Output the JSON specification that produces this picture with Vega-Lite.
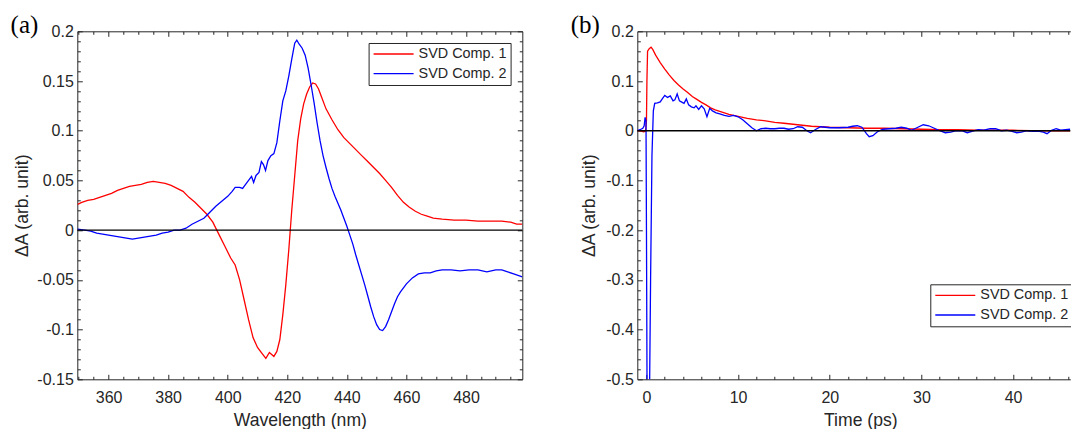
{
"$schema": "https://vega.github.io/schema/vega-lite/v6.json",
"background": "#ffffff",
"padding": {"left": 10.3, "top": 12.3, "right": 0, "bottom": 0},
"bounds": "flush",
"spacing": 115,
"resolve": {"scale": {"color": "independent"}, "legend": {"color": "independent"}},
"config": {
  "view": {"stroke": null},
  "axis": {"labelFont": "Liberation Sans", "labelFontSize": 16, "titleFont": "Liberation Sans", "titleFontSize": 17.6, "titleFontWeight": "normal", "labelColor": "#262626", "titleColor": "#262626", "domainColor": "#262626", "tickColor": "#262626", "domainWidth": 1, "tickWidth": 1, "grid": false, "labelFlush": false, "labelOverlap": false}
},
"hconcat": [
{
  "width": 445, "height": 348,
  "title": {"text": "(a)", "anchor": "start", "frame": "group", "orient": "top", "offset": -33, "dx": -66.7, "dy": 1.3, "baseline": "alphabetic", "font": "Liberation Serif", "fontSize": 25, "fontWeight": "normal", "color": "#000000"},
  "layer": [
    {
      "data": {"values": [
{"s":"SVD Comp. 1","x":349.6,"v":0.026},{"s":"SVD Comp. 1","x":351,"v":0.028},{"s":"SVD Comp. 1","x":353,"v":0.030},{"s":"SVD Comp. 1","x":355,"v":0.031},{"s":"SVD Comp. 1","x":357,"v":0.033},{"s":"SVD Comp. 1","x":359,"v":0.035},{"s":"SVD Comp. 1","x":361,"v":0.037},{"s":"SVD Comp. 1","x":363,"v":0.040},{"s":"SVD Comp. 1","x":365,"v":0.042},{"s":"SVD Comp. 1","x":367,"v":0.044},{"s":"SVD Comp. 1","x":369,"v":0.045},{"s":"SVD Comp. 1","x":371,"v":0.046},{"s":"SVD Comp. 1","x":373,"v":0.048},{"s":"SVD Comp. 1","x":375,"v":0.049},{"s":"SVD Comp. 1","x":377,"v":0.048},{"s":"SVD Comp. 1","x":379,"v":0.047},{"s":"SVD Comp. 1","x":381,"v":0.045},{"s":"SVD Comp. 1","x":383,"v":0.042},{"s":"SVD Comp. 1","x":385,"v":0.039},{"s":"SVD Comp. 1","x":387,"v":0.033},{"s":"SVD Comp. 1","x":389,"v":0.028},{"s":"SVD Comp. 1","x":391,"v":0.022},{"s":"SVD Comp. 1","x":393,"v":0.016},{"s":"SVD Comp. 1","x":395,"v":0.008},{"s":"SVD Comp. 1","x":397,"v":-0.004},{"s":"SVD Comp. 1","x":399,"v":-0.016},{"s":"SVD Comp. 1","x":401,"v":-0.028},{"s":"SVD Comp. 1","x":402.5,"v":-0.035},{"s":"SVD Comp. 1","x":404,"v":-0.050},{"s":"SVD Comp. 1","x":405.5,"v":-0.070},{"s":"SVD Comp. 1","x":407,"v":-0.090},{"s":"SVD Comp. 1","x":408.5,"v":-0.108},{"s":"SVD Comp. 1","x":410,"v":-0.118},{"s":"SVD Comp. 1","x":411.5,"v":-0.124},{"s":"SVD Comp. 1","x":412.8,"v":-0.129},{"s":"SVD Comp. 1","x":414,"v":-0.123},{"s":"SVD Comp. 1","x":415.5,"v":-0.127},{"s":"SVD Comp. 1","x":416.5,"v":-0.122},{"s":"SVD Comp. 1","x":417.5,"v":-0.110},{"s":"SVD Comp. 1","x":418.5,"v":-0.085},{"s":"SVD Comp. 1","x":419.5,"v":-0.055},{"s":"SVD Comp. 1","x":420.5,"v":-0.020},{"s":"SVD Comp. 1","x":421.5,"v":0.020},{"s":"SVD Comp. 1","x":422.5,"v":0.055},{"s":"SVD Comp. 1","x":423.5,"v":0.090},{"s":"SVD Comp. 1","x":424.5,"v":0.112},{"s":"SVD Comp. 1","x":425.5,"v":0.127},{"s":"SVD Comp. 1","x":426.5,"v":0.137},{"s":"SVD Comp. 1","x":427.5,"v":0.144},{"s":"SVD Comp. 1","x":428.5,"v":0.148},{"s":"SVD Comp. 1","x":429.5,"v":0.147},{"s":"SVD Comp. 1","x":430.5,"v":0.142},{"s":"SVD Comp. 1","x":431.5,"v":0.134},{"s":"SVD Comp. 1","x":433,"v":0.122},{"s":"SVD Comp. 1","x":435,"v":0.111},{"s":"SVD Comp. 1","x":437,"v":0.101},{"s":"SVD Comp. 1","x":439,"v":0.093},{"s":"SVD Comp. 1","x":441,"v":0.087},{"s":"SVD Comp. 1","x":443,"v":0.081},{"s":"SVD Comp. 1","x":445,"v":0.075},{"s":"SVD Comp. 1","x":447,"v":0.069},{"s":"SVD Comp. 1","x":449,"v":0.063},{"s":"SVD Comp. 1","x":451,"v":0.057},{"s":"SVD Comp. 1","x":453,"v":0.050},{"s":"SVD Comp. 1","x":455,"v":0.043},{"s":"SVD Comp. 1","x":457,"v":0.035},{"s":"SVD Comp. 1","x":459,"v":0.028},{"s":"SVD Comp. 1","x":461,"v":0.023},{"s":"SVD Comp. 1","x":463,"v":0.019},{"s":"SVD Comp. 1","x":465,"v":0.016},{"s":"SVD Comp. 1","x":467,"v":0.014},{"s":"SVD Comp. 1","x":469,"v":0.012},{"s":"SVD Comp. 1","x":472,"v":0.011},{"s":"SVD Comp. 1","x":476,"v":0.010},{"s":"SVD Comp. 1","x":480,"v":0.010},{"s":"SVD Comp. 1","x":484,"v":0.009},{"s":"SVD Comp. 1","x":488,"v":0.009},{"s":"SVD Comp. 1","x":492,"v":0.009},{"s":"SVD Comp. 1","x":495,"v":0.008},{"s":"SVD Comp. 1","x":497,"v":0.006},{"s":"SVD Comp. 1","x":498.9,"v":0.006},
{"s":"SVD Comp. 2","x":349.6,"v":0.001},{"s":"SVD Comp. 2","x":352,"v":0.000},{"s":"SVD Comp. 2","x":354,"v":-0.001},{"s":"SVD Comp. 2","x":356,"v":-0.003},{"s":"SVD Comp. 2","x":358,"v":-0.004},{"s":"SVD Comp. 2","x":360,"v":-0.005},{"s":"SVD Comp. 2","x":362,"v":-0.006},{"s":"SVD Comp. 2","x":364,"v":-0.007},{"s":"SVD Comp. 2","x":366,"v":-0.008},{"s":"SVD Comp. 2","x":368,"v":-0.009},{"s":"SVD Comp. 2","x":370,"v":-0.008},{"s":"SVD Comp. 2","x":372,"v":-0.007},{"s":"SVD Comp. 2","x":374,"v":-0.006},{"s":"SVD Comp. 2","x":376,"v":-0.005},{"s":"SVD Comp. 2","x":378,"v":-0.003},{"s":"SVD Comp. 2","x":380,"v":-0.002},{"s":"SVD Comp. 2","x":382,"v":0.000},{"s":"SVD Comp. 2","x":384,"v":0.000},{"s":"SVD Comp. 2","x":386,"v":0.002},{"s":"SVD Comp. 2","x":388,"v":0.006},{"s":"SVD Comp. 2","x":390,"v":0.009},{"s":"SVD Comp. 2","x":392,"v":0.012},{"s":"SVD Comp. 2","x":394,"v":0.018},{"s":"SVD Comp. 2","x":396,"v":0.024},{"s":"SVD Comp. 2","x":398,"v":0.029},{"s":"SVD Comp. 2","x":400,"v":0.034},{"s":"SVD Comp. 2","x":401.5,"v":0.039},{"s":"SVD Comp. 2","x":402.5,"v":0.043},{"s":"SVD Comp. 2","x":404,"v":0.043},{"s":"SVD Comp. 2","x":405,"v":0.042},{"s":"SVD Comp. 2","x":406,"v":0.046},{"s":"SVD Comp. 2","x":407,"v":0.050},{"s":"SVD Comp. 2","x":408,"v":0.054},{"s":"SVD Comp. 2","x":408.7,"v":0.048},{"s":"SVD Comp. 2","x":409.5,"v":0.055},{"s":"SVD Comp. 2","x":410.5,"v":0.058},{"s":"SVD Comp. 2","x":411.3,"v":0.069},{"s":"SVD Comp. 2","x":412,"v":0.066},{"s":"SVD Comp. 2","x":412.7,"v":0.060},{"s":"SVD Comp. 2","x":413.5,"v":0.070},{"s":"SVD Comp. 2","x":414.5,"v":0.075},{"s":"SVD Comp. 2","x":415.5,"v":0.077},{"s":"SVD Comp. 2","x":416.5,"v":0.088},{"s":"SVD Comp. 2","x":417.5,"v":0.110},{"s":"SVD Comp. 2","x":418.5,"v":0.130},{"s":"SVD Comp. 2","x":419.5,"v":0.140},{"s":"SVD Comp. 2","x":420.5,"v":0.155},{"s":"SVD Comp. 2","x":421.5,"v":0.172},{"s":"SVD Comp. 2","x":422.5,"v":0.188},{"s":"SVD Comp. 2","x":423.2,"v":0.191},{"s":"SVD Comp. 2","x":424,"v":0.187},{"s":"SVD Comp. 2","x":425,"v":0.183},{"s":"SVD Comp. 2","x":426,"v":0.176},{"s":"SVD Comp. 2","x":427,"v":0.163},{"s":"SVD Comp. 2","x":428,"v":0.146},{"s":"SVD Comp. 2","x":429,"v":0.128},{"s":"SVD Comp. 2","x":430,"v":0.108},{"s":"SVD Comp. 2","x":431,"v":0.090},{"s":"SVD Comp. 2","x":432,"v":0.075},{"s":"SVD Comp. 2","x":433,"v":0.063},{"s":"SVD Comp. 2","x":434,"v":0.052},{"s":"SVD Comp. 2","x":435,"v":0.042},{"s":"SVD Comp. 2","x":436,"v":0.034},{"s":"SVD Comp. 2","x":437,"v":0.027},{"s":"SVD Comp. 2","x":438,"v":0.020},{"s":"SVD Comp. 2","x":439,"v":0.012},{"s":"SVD Comp. 2","x":440,"v":0.004},{"s":"SVD Comp. 2","x":441,"v":-0.005},{"s":"SVD Comp. 2","x":442,"v":-0.014},{"s":"SVD Comp. 2","x":443,"v":-0.025},{"s":"SVD Comp. 2","x":444,"v":-0.035},{"s":"SVD Comp. 2","x":445,"v":-0.045},{"s":"SVD Comp. 2","x":446,"v":-0.055},{"s":"SVD Comp. 2","x":447,"v":-0.066},{"s":"SVD Comp. 2","x":448,"v":-0.077},{"s":"SVD Comp. 2","x":449,"v":-0.087},{"s":"SVD Comp. 2","x":450,"v":-0.095},{"s":"SVD Comp. 2","x":451,"v":-0.100},{"s":"SVD Comp. 2","x":452,"v":-0.101},{"s":"SVD Comp. 2","x":453,"v":-0.097},{"s":"SVD Comp. 2","x":454,"v":-0.090},{"s":"SVD Comp. 2","x":455,"v":-0.082},{"s":"SVD Comp. 2","x":456,"v":-0.074},{"s":"SVD Comp. 2","x":457,"v":-0.067},{"s":"SVD Comp. 2","x":458,"v":-0.062},{"s":"SVD Comp. 2","x":459,"v":-0.058},{"s":"SVD Comp. 2","x":460,"v":-0.054},{"s":"SVD Comp. 2","x":462,"v":-0.048},{"s":"SVD Comp. 2","x":464,"v":-0.044},{"s":"SVD Comp. 2","x":466,"v":-0.043},{"s":"SVD Comp. 2","x":468,"v":-0.043},{"s":"SVD Comp. 2","x":470,"v":-0.041},{"s":"SVD Comp. 2","x":472,"v":-0.040},{"s":"SVD Comp. 2","x":475,"v":-0.040},{"s":"SVD Comp. 2","x":478,"v":-0.041},{"s":"SVD Comp. 2","x":481,"v":-0.040},{"s":"SVD Comp. 2","x":484,"v":-0.040},{"s":"SVD Comp. 2","x":487,"v":-0.042},{"s":"SVD Comp. 2","x":490,"v":-0.040},{"s":"SVD Comp. 2","x":492,"v":-0.040},{"s":"SVD Comp. 2","x":494,"v":-0.042},{"s":"SVD Comp. 2","x":496,"v":-0.044},{"s":"SVD Comp. 2","x":498.9,"v":-0.047}
      ]},
      "mark": {"type": "line", "clip": true, "strokeWidth": 1.3},
      "encoding": {
        "x": {"field": "x", "type": "quantitative", "scale": {"domain": [349.5, 498.9], "nice": false, "zero": false},
          "axis": {"orient": "bottom", "title": "Wavelength (nm)", "values": [350,355,360,365,370,375,380,385,390,395,400,405,410,415,420,425,430,435,440,445,450,455,460,465,470,475,480,485,490,495],
            "labelExpr": "datum.value % 20 === 0 ? datum.label : ''",
            "tickSize": {"condition": {"test": "datum.value % 20 === 0", "value": -5}, "value": -3},
            "labelPadding": 15.5, "titleY": 46.5, "titleBaseline": "alphabetic"}},
        "y": {"field": "v", "type": "quantitative", "scale": {"domain": [-0.15, 0.2], "nice": false, "zero": false},
          "axis": {"orient": "left", "title": "ΔA (arb. unit)", "values": [-0.15,-0.14,-0.13,-0.12,-0.11,-0.1,-0.09,-0.08,-0.07,-0.06,-0.05,-0.04,-0.03,-0.02,-0.01,0,0.01,0.02,0.03,0.04,0.05,0.06,0.07,0.08,0.09,0.1,0.11,0.12,0.13,0.14,0.15,0.16,0.17,0.18,0.19,0.2],
            "labelExpr": "abs(datum.value*20 - round(datum.value*20)) < 1e-6 ? (datum.value < 0 ? '-' : '') + format(abs(datum.value), '~g') : ''",
            "tickSize": {"condition": {"test": "abs(datum.value*20 - round(datum.value*20)) < 1e-6", "value": -5}, "value": -3},
            "labelPadding": 9, "labelOverlap": false, "titleX": -55, "titleY": 174, "titleAngle": -90, "titleAlign": "center", "titleBaseline": "middle"}},
        "color": {"field": "s", "type": "nominal", "scale": {"domain": ["SVD Comp. 1", "SVD Comp. 2"], "range": ["#ff0000", "#0000ff"]},
          "legend": {"orient": "none", "legendX": 291.3, "legendY": 11.7, "title": null, "symbolType": "stroke", "symbolSize": 1600, "symbolStrokeWidth": 1.3, "clipHeight": 14, "rowPadding": 4.7, "padding": 4, "labelOffset": 4, "labelFont": "Liberation Sans", "labelFontSize": 14.4, "labelColor": "#262626", "strokeColor": "#262626", "fillColor": "#ffffff", "cornerRadius": 0}}
      }
    },
    {
      "data": {"values": [{}]},
      "mark": {"type": "rule", "color": "#000000", "strokeWidth": 1.3},
      "encoding": {
        "x": {"datum": 349.5, "type": "quantitative",
          "axis": {"orient": "top", "title": null, "labels": false, "values": [350,355,360,365,370,375,380,385,390,395,400,405,410,415,420,425,430,435,440,445,450,455,460,465,470,475,480,485,490,495],
            "tickSize": {"condition": {"test": "datum.value % 20 === 0", "value": -5}, "value": -3}}},
        "x2": {"datum": 498.9},
        "y": {"datum": 0, "type": "quantitative",
          "axis": {"orient": "right", "title": null, "labels": false, "values": [-0.15,-0.14,-0.13,-0.12,-0.11,-0.1,-0.09,-0.08,-0.07,-0.06,-0.05,-0.04,-0.03,-0.02,-0.01,0,0.01,0.02,0.03,0.04,0.05,0.06,0.07,0.08,0.09,0.1,0.11,0.12,0.13,0.14,0.15,0.16,0.17,0.18,0.19,0.2],
            "tickSize": {"condition": {"test": "abs(datum.value*20 - round(datum.value*20)) < 1e-6", "value": -5}, "value": -3}}}
      }
    }
  ]
},
{
  "width": 433, "height": 348,
  "title": {"text": "(b)", "anchor": "start", "frame": "group", "orient": "top", "offset": -33, "dx": -66.5, "dy": 1.3, "baseline": "alphabetic", "font": "Liberation Serif", "fontSize": 25, "fontWeight": "normal", "color": "#000000"},
  "layer": [
    {
      "data": {"values": [
{"s":"SVD Comp. 1","x":-1,"v":0.000},{"s":"SVD Comp. 1","x":-0.6,"v":-0.001},{"s":"SVD Comp. 1","x":-0.3,"v":-0.002},{"s":"SVD Comp. 1","x":-0.1,"v":-0.001},{"s":"SVD Comp. 1","x":0,"v":0.020},{"s":"SVD Comp. 1","x":0.05,"v":0.100},{"s":"SVD Comp. 1","x":0.12,"v":0.160},{"s":"SVD Comp. 1","x":0.3,"v":0.165},{"s":"SVD Comp. 1","x":0.5,"v":0.168},{"s":"SVD Comp. 1","x":0.7,"v":0.163},{"s":"SVD Comp. 1","x":1.0,"v":0.152},{"s":"SVD Comp. 1","x":1.5,"v":0.137},{"s":"SVD Comp. 1","x":2,"v":0.124},{"s":"SVD Comp. 1","x":2.5,"v":0.112},{"s":"SVD Comp. 1","x":3,"v":0.101},{"s":"SVD Comp. 1","x":3.5,"v":0.092},{"s":"SVD Comp. 1","x":4,"v":0.084},{"s":"SVD Comp. 1","x":4.5,"v":0.077},{"s":"SVD Comp. 1","x":5,"v":0.069},{"s":"SVD Comp. 1","x":5.5,"v":0.063},{"s":"SVD Comp. 1","x":6,"v":0.057},{"s":"SVD Comp. 1","x":6.5,"v":0.052},{"s":"SVD Comp. 1","x":7,"v":0.046},{"s":"SVD Comp. 1","x":7.5,"v":0.042},{"s":"SVD Comp. 1","x":8,"v":0.039},{"s":"SVD Comp. 1","x":9,"v":0.033},{"s":"SVD Comp. 1","x":10,"v":0.029},{"s":"SVD Comp. 1","x":11,"v":0.025},{"s":"SVD Comp. 1","x":12,"v":0.022},{"s":"SVD Comp. 1","x":13,"v":0.020},{"s":"SVD Comp. 1","x":14,"v":0.017},{"s":"SVD Comp. 1","x":15,"v":0.015},{"s":"SVD Comp. 1","x":16,"v":0.013},{"s":"SVD Comp. 1","x":17,"v":0.011},{"s":"SVD Comp. 1","x":18,"v":0.009},{"s":"SVD Comp. 1","x":19,"v":0.008},{"s":"SVD Comp. 1","x":20,"v":0.007},{"s":"SVD Comp. 1","x":22,"v":0.006},{"s":"SVD Comp. 1","x":24,"v":0.005},{"s":"SVD Comp. 1","x":26,"v":0.005},{"s":"SVD Comp. 1","x":28,"v":0.004},{"s":"SVD Comp. 1","x":30,"v":0.003},{"s":"SVD Comp. 1","x":32,"v":0.002},{"s":"SVD Comp. 1","x":34,"v":0.002},{"s":"SVD Comp. 1","x":36,"v":0.001},{"s":"SVD Comp. 1","x":38,"v":0.001},{"s":"SVD Comp. 1","x":40,"v":0.001},{"s":"SVD Comp. 1","x":42,"v":0.000},{"s":"SVD Comp. 1","x":44,"v":0.000},{"s":"SVD Comp. 1","x":46.24,"v":0.000},
{"s":"SVD Comp. 2","x":-1,"v":0.000},{"s":"SVD Comp. 2","x":-0.7,"v":0.002},{"s":"SVD Comp. 2","x":-0.4,"v":0.005},{"s":"SVD Comp. 2","x":-0.25,"v":0.010},{"s":"SVD Comp. 2","x":-0.15,"v":0.027},{"s":"SVD Comp. 2","x":-0.05,"v":0.020},{"s":"SVD Comp. 2","x":0,"v":-0.200},{"s":"SVD Comp. 2","x":0.08,"v":-0.600},{"s":"SVD Comp. 2","x":0.3,"v":-0.600},{"s":"SVD Comp. 2","x":0.45,"v":-0.300},{"s":"SVD Comp. 2","x":0.6,"v":-0.050},{"s":"SVD Comp. 2","x":0.75,"v":0.040},{"s":"SVD Comp. 2","x":0.9,"v":0.055},{"s":"SVD Comp. 2","x":1.2,"v":0.056},{"s":"SVD Comp. 2","x":1.5,"v":0.058},{"s":"SVD Comp. 2","x":1.8,"v":0.066},{"s":"SVD Comp. 2","x":2.0,"v":0.071},{"s":"SVD Comp. 2","x":2.3,"v":0.067},{"s":"SVD Comp. 2","x":2.6,"v":0.070},{"s":"SVD Comp. 2","x":2.9,"v":0.060},{"s":"SVD Comp. 2","x":3.1,"v":0.062},{"s":"SVD Comp. 2","x":3.35,"v":0.074},{"s":"SVD Comp. 2","x":3.6,"v":0.060},{"s":"SVD Comp. 2","x":3.9,"v":0.057},{"s":"SVD Comp. 2","x":4.1,"v":0.055},{"s":"SVD Comp. 2","x":4.35,"v":0.064},{"s":"SVD Comp. 2","x":4.6,"v":0.052},{"s":"SVD Comp. 2","x":4.9,"v":0.048},{"s":"SVD Comp. 2","x":5.2,"v":0.046},{"s":"SVD Comp. 2","x":5.4,"v":0.050},{"s":"SVD Comp. 2","x":5.7,"v":0.043},{"s":"SVD Comp. 2","x":6.0,"v":0.050},{"s":"SVD Comp. 2","x":6.3,"v":0.044},{"s":"SVD Comp. 2","x":6.6,"v":0.028},{"s":"SVD Comp. 2","x":6.9,"v":0.045},{"s":"SVD Comp. 2","x":7.2,"v":0.040},{"s":"SVD Comp. 2","x":7.6,"v":0.036},{"s":"SVD Comp. 2","x":8.0,"v":0.034},{"s":"SVD Comp. 2","x":8.5,"v":0.031},{"s":"SVD Comp. 2","x":9.0,"v":0.029},{"s":"SVD Comp. 2","x":9.5,"v":0.031},{"s":"SVD Comp. 2","x":10.0,"v":0.028},{"s":"SVD Comp. 2","x":10.5,"v":0.022},{"s":"SVD Comp. 2","x":11.0,"v":0.014},{"s":"SVD Comp. 2","x":11.5,"v":0.006},{"s":"SVD Comp. 2","x":12.0,"v":0.000},{"s":"SVD Comp. 2","x":12.5,"v":0.004},{"s":"SVD Comp. 2","x":13.0,"v":0.005},{"s":"SVD Comp. 2","x":13.5,"v":0.004},{"s":"SVD Comp. 2","x":14.0,"v":0.004},{"s":"SVD Comp. 2","x":14.5,"v":0.005},{"s":"SVD Comp. 2","x":15.0,"v":0.005},{"s":"SVD Comp. 2","x":15.5,"v":0.003},{"s":"SVD Comp. 2","x":16.0,"v":0.004},{"s":"SVD Comp. 2","x":16.5,"v":0.008},{"s":"SVD Comp. 2","x":17.0,"v":0.007},{"s":"SVD Comp. 2","x":17.5,"v":0.000},{"s":"SVD Comp. 2","x":17.9,"v":-0.004},{"s":"SVD Comp. 2","x":18.4,"v":0.002},{"s":"SVD Comp. 2","x":19.0,"v":0.008},{"s":"SVD Comp. 2","x":19.5,"v":0.007},{"s":"SVD Comp. 2","x":20.0,"v":0.006},{"s":"SVD Comp. 2","x":21.0,"v":0.006},{"s":"SVD Comp. 2","x":22.0,"v":0.007},{"s":"SVD Comp. 2","x":22.5,"v":0.009},{"s":"SVD Comp. 2","x":23.0,"v":0.010},{"s":"SVD Comp. 2","x":23.5,"v":0.007},{"s":"SVD Comp. 2","x":24.0,"v":-0.006},{"s":"SVD Comp. 2","x":24.3,"v":-0.012},{"s":"SVD Comp. 2","x":24.7,"v":-0.010},{"s":"SVD Comp. 2","x":25.2,"v":-0.002},{"s":"SVD Comp. 2","x":25.8,"v":0.003},{"s":"SVD Comp. 2","x":26.5,"v":0.004},{"s":"SVD Comp. 2","x":27.2,"v":0.005},{"s":"SVD Comp. 2","x":27.8,"v":0.007},{"s":"SVD Comp. 2","x":28.4,"v":0.005},{"s":"SVD Comp. 2","x":28.9,"v":0.001},{"s":"SVD Comp. 2","x":29.5,"v":0.006},{"s":"SVD Comp. 2","x":30.2,"v":0.012},{"s":"SVD Comp. 2","x":30.8,"v":0.010},{"s":"SVD Comp. 2","x":31.4,"v":0.005},{"s":"SVD Comp. 2","x":32.0,"v":0.000},{"s":"SVD Comp. 2","x":32.6,"v":-0.004},{"s":"SVD Comp. 2","x":33.2,"v":-0.003},{"s":"SVD Comp. 2","x":33.8,"v":0.000},{"s":"SVD Comp. 2","x":34.4,"v":0.000},{"s":"SVD Comp. 2","x":35.0,"v":-0.004},{"s":"SVD Comp. 2","x":35.6,"v":-0.001},{"s":"SVD Comp. 2","x":36.2,"v":0.002},{"s":"SVD Comp. 2","x":36.8,"v":0.001},{"s":"SVD Comp. 2","x":37.5,"v":0.004},{"s":"SVD Comp. 2","x":38.1,"v":0.004},{"s":"SVD Comp. 2","x":38.7,"v":0.000},{"s":"SVD Comp. 2","x":39.3,"v":0.001},{"s":"SVD Comp. 2","x":39.8,"v":-0.001},{"s":"SVD Comp. 2","x":40.4,"v":-0.004},{"s":"SVD Comp. 2","x":40.9,"v":-0.003},{"s":"SVD Comp. 2","x":41.5,"v":0.000},{"s":"SVD Comp. 2","x":42.1,"v":-0.001},{"s":"SVD Comp. 2","x":42.7,"v":-0.001},{"s":"SVD Comp. 2","x":43.3,"v":-0.003},{"s":"SVD Comp. 2","x":43.7,"v":-0.006},{"s":"SVD Comp. 2","x":44.2,"v":0.001},{"s":"SVD Comp. 2","x":44.7,"v":0.004},{"s":"SVD Comp. 2","x":45.2,"v":0.001},{"s":"SVD Comp. 2","x":45.7,"v":0.002},{"s":"SVD Comp. 2","x":46.24,"v":0.003}
      ]},
      "mark": {"type": "line", "clip": true, "strokeWidth": 1.3},
      "encoding": {
        "x": {"field": "x", "type": "quantitative", "scale": {"domain": [-1, 46.24], "nice": false, "zero": false},
          "axis": {"orient": "bottom", "title": "Time (ps)", "values": [0,2,4,6,8,10,12,14,16,18,20,22,24,26,28,30,32,34,36,38,40,42,44,46],
            "labelExpr": "datum.value % 10 === 0 ? datum.label : ''",
            "tickSize": {"condition": {"test": "datum.value % 10 === 0", "value": -5}, "value": -3},
            "labelPadding": 15.5, "titleX": 223, "titleY": 46.5, "titleAlign": "center", "titleBaseline": "alphabetic"}},
        "y": {"field": "v", "type": "quantitative", "scale": {"domain": [-0.5, 0.2], "nice": false, "zero": false},
          "axis": {"orient": "left", "title": "ΔA (arb. unit)", "values": [-0.5,-0.48,-0.46,-0.44,-0.42,-0.4,-0.38,-0.36,-0.34,-0.32,-0.3,-0.28,-0.26,-0.24,-0.22,-0.2,-0.18,-0.16,-0.14,-0.12,-0.1,-0.08,-0.06,-0.04,-0.02,0,0.02,0.04,0.06,0.08,0.1,0.12,0.14,0.16,0.18,0.2],
            "labelExpr": "abs(datum.value*10 - round(datum.value*10)) < 1e-6 ? (datum.value < 0 ? '-' : '') + format(abs(datum.value), '~g') : ''",
            "tickSize": {"condition": {"test": "abs(datum.value*10 - round(datum.value*10)) < 1e-6", "value": -5}, "value": -3},
            "labelPadding": 9, "labelOverlap": false, "titleX": -48, "titleY": 174, "titleAngle": -90, "titleAlign": "center", "titleBaseline": "middle"}},
        "color": {"field": "s", "type": "nominal", "scale": {"domain": ["SVD Comp. 1", "SVD Comp. 2"], "range": ["#ff0000", "#0000ff"]},
          "legend": {"orient": "none", "legendX": 293, "legendY": 253, "title": null, "symbolType": "stroke", "symbolSize": 1600, "symbolStrokeWidth": 1.3, "clipHeight": 14, "rowPadding": 4.7, "padding": 4, "labelOffset": 4, "labelFont": "Liberation Sans", "labelFontSize": 14.4, "labelColor": "#262626", "strokeColor": "#262626", "fillColor": "#ffffff", "cornerRadius": 0}}
      }
    },
    {
      "data": {"values": [{}]},
      "mark": {"type": "rule", "color": "#000000", "strokeWidth": 1.3},
      "encoding": {
        "x": {"datum": -1, "type": "quantitative",
          "axis": {"orient": "top", "title": null, "labels": false, "values": [0,2,4,6,8,10,12,14,16,18,20,22,24,26,28,30,32,34,36,38,40,42,44,46],
            "tickSize": {"condition": {"test": "datum.value % 10 === 0", "value": -5}, "value": -3}}},
        "x2": {"datum": 46.24},
        "y": {"datum": 0, "type": "quantitative", "axis": {"orient": "right", "title": null, "labels": false, "ticks": false, "domain": false}}
      }
    }
  ]
}
]
}
